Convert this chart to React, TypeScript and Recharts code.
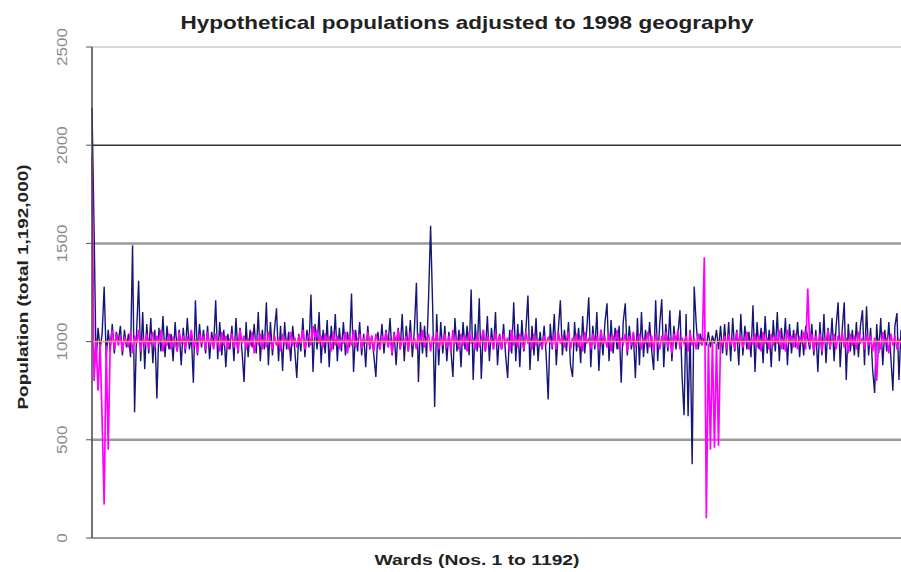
import React from "react"
import {
  LineChart,
  Line,
  XAxis,
  YAxis,
  ReferenceLine,
} from "recharts"

// one value per plotted point, left to right
const navy = [
  2190, 1590, 900, 1070, 960, 1040, 1280, 920, 1060, 950, 1090, 940, 1050, 1000, 1080, 930, 1060, 970, 1040, 920,
  1490, 640, 1050, 1310, 900, 1150, 860, 1090, 940, 1120, 890, 1060, 710, 1070, 950, 1130, 920, 1080, 960, 1040,
  900, 1100, 950, 1060, 880, 1070, 940, 1120, 960, 1030, 790, 1210, 930, 1090, 970, 1060, 940, 1080, 910, 1050,
  980, 1210, 910, 1100, 930, 1060, 870, 1040, 960, 1080, 900, 1120, 940, 1070, 950, 795, 1100, 920, 1060, 970,
  1090, 940, 1150, 900, 1060, 960, 1200, 880, 1100, 930, 1060, 1170, 900, 1080, 850, 1100, 960, 1050, 900, 1080,
  960, 815, 1040, 950, 1120, 920, 1060, 970, 1240, 845, 1090, 960, 1150, 890, 1060, 940, 1110, 870, 1080, 960,
  1140, 900, 1070, 950, 1100, 930, 1050, 970, 1245, 845, 1060, 950, 1100, 930, 1040, 870, 1080, 960, 1030, 930,
  820, 1050, 960, 1090, 940, 1060, 980, 1120, 930, 1050, 880, 1070, 960, 1140, 900, 1080, 950, 1110, 920, 1060,
  1300, 795, 1100, 940, 1080, 920, 1225, 1590, 1180, 667, 1140, 880, 1100, 940, 1080, 900, 1050, 960, 820, 1120,
  950, 1060, 870, 1100, 960, 1080, 930, 1265, 805, 1090, 950, 1220, 810, 1060, 950, 1130, 900, 1070, 960, 1150,
  880, 1040, 960, 1090, 930, 815, 1060, 940, 1200, 900, 1090, 870, 1110, 950, 1060, 1235, 855, 1080, 930, 1120,
  900, 1050, 960, 1080, 930, 705, 1090, 960, 1140, 880, 1060, 1210, 930, 1060, 950, 1100, 880, 820, 1100, 950,
  1070, 890, 1130, 940, 1060, 1225, 870, 1080, 960, 1150, 850, 1060, 930, 1100, 1195, 900, 1110, 940, 1070, 960,
  1080, 790, 1100, 1195, 930, 1080, 960, 1040, 815, 1120, 880, 1150, 920, 1060, 940, 1100, 960, 855, 1210, 900,
  1090, 1215, 870, 1090, 950, 1160, 900, 1080, 960, 1040, 1160, 830, 625, 1140, 620, 1060, 375, 1280, 1090, 960,
  1040, 990, 1020, 980, 1050, 970, 1030, 990, 1060, 960, 1080, 940, 1090, 930, 1100, 900, 1120, 950, 1060, 880,
  1140, 930, 1080, 960, 1050, 920, 1185, 845, 1100, 960, 1070, 890, 1130, 940, 1060, 870, 1110, 950, 1150, 900,
  1070, 960, 1120, 880, 1090, 940, 1060, 970, 1100, 920, 1060, 930, 1080, 1020, 960, 1090, 930, 1060, 845, 1100,
  930, 1140, 890, 1070, 960, 1120, 900, 1080, 1200, 870, 1060, 1200, 805, 1090, 950, 1060, 930, 1100, 920, 1080,
  1160, 880, 1180, 930, 1070, 860, 738, 1090, 940, 1120, 880, 1060, 950, 1100, 920, 750, 1080, 1145, 805, 1060,
]

const magenta = [
  1950, 800, 1000, 750, 990, 600, 170, 980, 450, 1000, 1060, 960, 1040, 980, 1030, 950, 1020, 1000, 970, 1050,
  940, 1030, 990, 1060, 950, 1020, 980, 1040, 960, 1010, 1050, 970, 1030, 990, 1060, 950, 1010, 980, 1040, 960,
  1020, 1000, 950, 1050, 990, 1030, 960, 1020, 1000, 1060, 970, 1010, 940, 1040, 990, 1030, 960, 1050, 980, 1020,
  960, 1040, 1000, 950, 1050, 980, 1030, 960, 1010, 1040, 970, 1020, 950, 1060, 990, 1030, 960, 1010, 980, 1050,
  940, 1020, 990, 1040, 960, 1030, 970, 1050, 1000, 960, 1030, 980, 1020, 950, 1040, 990, 1010, 960, 1050, 980,
  1020, 970, 1030, 990, 1060, 960, 1010, 1040, 980, 1080, 1020, 1060, 990, 1030, 970, 1040, 1000, 1020, 950, 1050,
  980, 1030, 960, 1020, 990, 1050, 940, 1030, 980, 1060, 970, 1010, 1040, 960, 1020, 990, 1050, 970, 1030, 950,
  1040, 1000, 960, 1030, 990, 1050, 970, 1020, 940, 1040, 1000, 1060, 960, 1020, 990, 1030, 950, 1050, 980, 1020,
  960, 1040, 990, 1060, 970, 1010, 1040, 950, 1030, 990, 1050, 960, 1020, 980, 1040, 970, 1030, 950, 1060, 990,
  1020, 960, 1040, 980, 1030, 950, 1050, 990, 1020, 960, 1040, 970, 1010, 1060, 950, 1030, 990, 1020, 960, 1050,
  980, 1030, 960, 1040, 990, 1020, 950, 1060, 980, 1030, 970, 1040, 1000, 960, 1050, 990, 1020, 960, 1040, 980,
  1010, 990, 970, 1030, 990, 1020, 1000, 980, 1040, 960, 1050, 990, 1030, 970, 1010, 1050, 960, 1020, 990, 1040,
  970, 1030, 950, 1050, 990, 1020, 960, 1040, 980, 1030, 960, 1060, 990, 1020, 970, 1040, 950, 1030, 1000, 1060,
  960, 1020, 990, 1040, 950, 1030, 980, 1050, 970, 1010, 1040, 960, 1020, 990, 1050, 970, 1030, 950, 1040, 1000,
  960, 1030, 990, 1050, 970, 1020, 940, 1040, 1000, 1060, 960, 1020, 990, 1030, 950, 1050, 980, 1020, 960, 1040,
  1000, 980, 1430, 100, 990, 450, 1000, 460, 990, 470, 1010, 990, 1030, 960, 1040, 980, 1020, 960, 1050, 990,
  1030, 970, 1010, 1050, 960, 1020, 990, 1040, 970, 1030, 950, 1050, 990, 1020, 960, 1040, 980, 1030, 990, 1060,
  960, 1020, 950, 1060, 990, 1030, 970, 1040, 960, 1020, 1000, 1050, 960, 1270, 980, 1040, 950, 1030, 980, 1040,
  950, 1020, 990, 1060, 970, 1010, 1040, 960, 1030, 990, 1050, 970, 1020, 940, 1040, 980, 1030, 960, 1050, 990,
  1020, 960, 1040, 980, 1030, 950, 1020, 800, 1010, 960, 1050, 990, 1020, 940, 1040, 980, 1030, 960, 1010, 990,
]

const yTicks = [0, 500, 1000, 1500, 2000, 2500]
const points = navy.map((_, i) => i + 1)

const data = points.map((p, i) => ({
  p,
  original: navy[i],
  adjusted: magenta[i],
}))

const FONT = "'Liberation Sans', Arial, sans-serif"

const YTick = (props: any) => {
  const { x, y, payload } = props
  const s = String(payload.value)
  return (
    <text
      x={x}
      y={y}
      transform={`rotate(-90, ${x}, ${y})`}
      textAnchor="middle"
      fontFamily={FONT}
      fontSize={15}
      fill="#8a8a8a"
      textLength={s.length * 9.5}
      lengthAdjust="spacingAndGlyphs"
    >
      {s}
    </text>
  )
}

export default function App() {
  return (
    <div style={{ position: "fixed", left: 0, top: 0, width: 901, height: 572, background: "#fff" }}>
      <svg
        width={901}
        height={40}
        style={{ position: "absolute", left: 0, top: 0, pointerEvents: "none", zIndex: 2 }}
      >
        <text
          x={467}
          y={29}
          textAnchor="middle"
          fontFamily={FONT}
          fontWeight="bold"
          fontSize={19}
          fill="#222"
          textLength={573}
          lengthAdjust="spacingAndGlyphs"
        >
          Hypothetical populations adjusted to 1998 geography
        </text>
      </svg>
      <LineChart
        width={901}
        height={572}
        data={data}
        margin={{ top: 47, right: 0, left: 0, bottom: 0 }}
      >
        <XAxis
          dataKey="p"
          type="number"
          domain={[1, points.length]}
          height={34}
          tick={false}
          tickLine={false}
          axisLine={{ stroke: "#9a9a9a", strokeWidth: 2 }}
          label={{
            content: () => (
              <text
                x={477}
                y={565}
                textAnchor="middle"
                fontFamily={FONT}
                fontWeight="bold"
                fontSize={14}
                fill="#222"
                textLength={205}
                lengthAdjust="spacingAndGlyphs"
              >
                Wards (Nos. 1 to 1192)
              </text>
            ),
          }}
        />
        <YAxis
          domain={[0, 2500]}
          ticks={yTicks}
          width={92}
          interval={0}
          tickSize={6}
          tickMargin={19}
          tick={<YTick />}
          tickLine={{ stroke: "#555" }}
          axisLine={{ stroke: "#444", strokeWidth: 1.5 }}
          label={{
            content: () => (
              <text
                x={28}
                y={287}
                transform="rotate(-90, 28, 287)"
                textAnchor="middle"
                fontFamily={FONT}
                fontWeight="bold"
                fontSize={14}
                fill="#222"
                textLength={245}
                lengthAdjust="spacingAndGlyphs"
              >
                Population (total 1,192,000)
              </text>
            ),
          }}
        />
        <ReferenceLine y={2500} stroke="#b0b0b0" strokeWidth={1} />
        <ReferenceLine y={2000} stroke="#333" strokeWidth={1.5} />
        <ReferenceLine y={1500} stroke="#9a9a9a" strokeWidth={2.5} />
        <ReferenceLine y={500} stroke="#9a9a9a" strokeWidth={2.5} />
        <Line
          dataKey="original"
          stroke="#16167a"
          strokeWidth={1.4}
          dot={false}
          isAnimationActive={false}
        />
        <Line
          dataKey="adjusted"
          stroke="#ff00ff"
          strokeWidth={1.7}
          dot={false}
          isAnimationActive={false}
        />
        <ReferenceLine y={1000} stroke="#ff9a70" strokeWidth={1.5} />
      </LineChart>
    </div>
  )
}
